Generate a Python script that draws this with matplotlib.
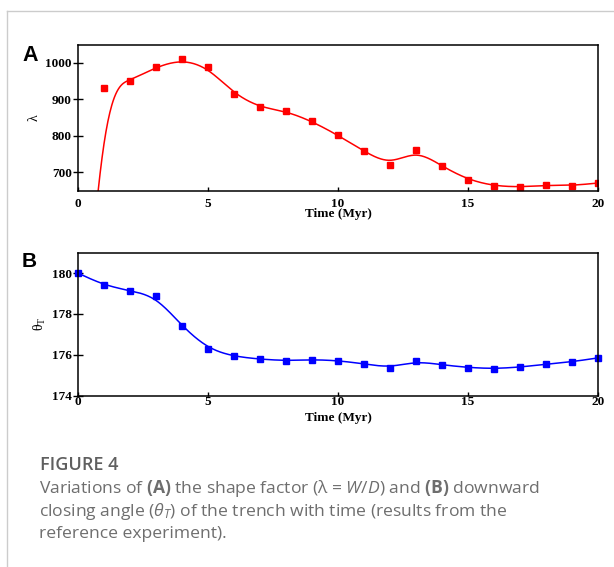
import numpy as np
import matplotlib
matplotlib.use('Agg')
import matplotlib.pyplot as plt
from matplotlib.lines import Line2D

#--datos
time = np.arange(0, 21)
shape_factor = np.array([0, 930, 951, 989, 1010, 988, 915, 878, 868, 840, 802,
                         758, 720, 762, 717, 680, 663, 660, 665, 664, 671])
closing_angle = np.array([180.0, 179.41, 179.14, 178.86, 177.40, 176.29, 175.92,
                          175.79, 175.71, 175.77, 175.72, 175.56, 175.37, 175.69,
                          175.51, 175.38, 175.32, 175.40, 175.54, 175.66, 175.85])
x_ticks = [0, 5, 10, 15, 20]
a_ticks = [700, 800, 900, 1000]
b_ticks = [174, 176, 178, 180]


#--curva B-spline cubica uniforme con los datos como puntos de control
def bspline(t, y, m=40):
    y = np.asarray(y, float)
    p = np.concatenate([[2 * y[0] - y[1]], y, [2 * y[-1] - y[-2]]])
    u = np.linspace(0, 1, m, endpoint=False)
    b0 = (1 - u) ** 3 / 6
    b1 = (3 * u ** 3 - 6 * u ** 2 + 4) / 6
    b2 = (-3 * u ** 3 + 3 * u ** 2 + 3 * u + 1) / 6
    b3 = u ** 3 / 6
    xs, ys = [], []
    for i in range(len(y) - 1):
        xs.append(t[i] + u * (t[i + 1] - t[i]))
        ys.append(b0 * p[i] + b1 * p[i + 1] + b2 * p[i + 2] + b3 * p[i + 3])
    xs.append([t[-1]])
    ys.append([y[-1]])
    return np.concatenate(xs), np.concatenate(ys)


plt.rcParams['mathtext.fontset'] = 'custom'
plt.rcParams['mathtext.rm'] = 'Open Sans'
plt.rcParams['mathtext.it'] = 'Open Sans:italic'
plt.rcParams['mathtext.bf'] = 'Open Sans:bold'

fig = plt.figure(figsize=(6.14, 5.67), dpi=100)
W, H = 614, 567

#--marco gris
fig.add_artist(Line2D([7 / W, 1], [1 - 11 / H, 1 - 11 / H], color='#cccccc', lw=1))
fig.add_artist(Line2D([7 / W, 7 / W], [0, 1 - 11 / H], color='#cccccc', lw=1))

serif = 'Liberation Serif'


def style(ax, yt):
    ax.set_xlim(0, 20)
    ax.set_xticks(x_ticks)
    ax.set_yticks(yt)
    ax.tick_params(axis='y', direction='inout', length=7, width=1, pad=1)
    ax.tick_params(axis='x', direction='in', length=3, width=1)
    for s in ax.spines.values():
        s.set_linewidth(1.1)
    for lab in ax.get_xticklabels() + ax.get_yticklabels():
        lab.set_fontfamily(serif)
        lab.set_fontweight('bold')
        lab.set_fontsize(9.5)


#--panel A
axA = fig.add_axes([78 / W, 1 - 190.7 / H, 520 / W, 146 / H])
xs, ys = bspline(time, shape_factor)
axA.plot(xs, ys, color='red', lw=1.1)
axA.plot(time, shape_factor, 's', color='red', ms=3.8)
axA.set_ylim(650, 1050)
style(axA, a_ticks)
axA.tick_params(axis='x', pad=5)
axA.set_xlabel('Time (Myr)', fontfamily=serif, fontweight='bold', fontsize=9.5, labelpad=-1)
axA.set_ylabel('λ', fontfamily=serif, fontsize=10, labelpad=3)

#--panel B
axB = fig.add_axes([78 / W, 1 - 395.7 / H, 520 / W, 143 / H])
xs, ys = bspline(time, closing_angle)
axB.plot(xs, ys, color='blue', lw=1.1)
axB.plot(time, closing_angle, 's', color='blue', ms=3.8, clip_on=False)
axB.set_ylim(174, 181)
style(axB, b_ticks)
axB.tick_params(axis='x', pad=0)
axB.set_xlabel('Time (Myr)', fontfamily=serif, fontweight='bold', fontsize=9.5, labelpad=3)
axB.set_ylabel(r'θ$_\mathregular{T}$', fontfamily=serif, fontsize=10, labelpad=3)

fig.text(22 / W, 1 - 55.5 / H, 'A', fontfamily='Liberation Sans', fontweight='bold',
         fontsize=15.5, va='center', ha='left')
fig.text(22 / W, 1 - 261.5 / H, 'B', fontfamily='Liberation Sans', fontweight='bold',
         fontsize=15, va='center', ha='left')

#--leyenda de la figura
fig.text(40 / W, 1 - 470.5 / H, 'FIGURE 4', fontfamily='Open Sans', fontweight='semibold',
         fontsize=13, color='#5f5f5f', va='baseline')
lines = [r'Variations of $\mathbf{(A)}$ the shape factor (λ = $W/D$) and $\mathbf{(B)}$ downward',
         r'closing angle ($\theta_T$) of the trench with time (results from the',
         'reference experiment).']
for i, s in enumerate(lines):
    fig.text(39 / W, 1 - (493 + 22.5 * i) / H, s, fontfamily='Open Sans', fontsize=12.6,
             color='#6e6e6e', va='baseline')

fig.savefig('out.png', dpi=100)
